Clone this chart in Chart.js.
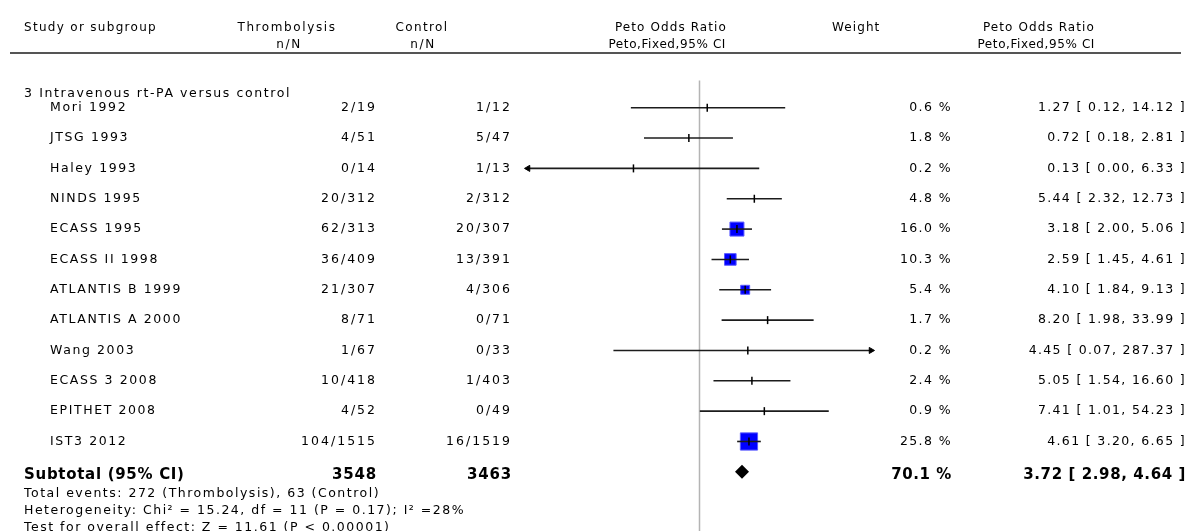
<!DOCTYPE html>
<html>
<head>
<meta charset="utf-8">
<script src="https://cdn.jsdelivr.net/npm/chart.js@4/dist/chart.umd.min.js"></script>
<style>
  html, body { margin: 0; padding: 0; background: #fff; }
  #wrap { position: relative; width: 1187px; height: 531px; }
</style>
</head>
<body>
<div id="wrap"><canvas id="forest"></canvas></div>
<script>
// Study data
const studies = ['Mori 1992', 'JTSG 1993', 'Haley 1993', 'NINDS 1995', 'ECASS 1995', 'ECASS II 1998',
  'ATLANTIS B 1999', 'ATLANTIS A 2000', 'Wang 2003', 'ECASS 3 2008', 'EPITHET 2008', 'IST3 2012'];
const trtEvents = [2, 4, 0, 20, 62, 36, 21, 8, 1, 10, 4, 104];
const trtTotal = [19, 51, 14, 312, 313, 409, 307, 71, 67, 418, 52, 1515];
const ctrlEvents = [1, 5, 1, 2, 20, 13, 4, 0, 0, 1, 0, 16];
const ctrlTotal = [12, 47, 13, 312, 307, 391, 306, 71, 33, 403, 49, 1519];
const weights = [0.6, 1.8, 0.2, 4.8, 16.0, 10.3, 5.4, 1.7, 0.2, 2.4, 0.9, 25.8];
const oddsRatio = [1.27, 0.72, 0.13, 5.44, 3.18, 2.59, 4.10, 8.20, 4.45, 5.05, 7.41, 4.61];
const ciLow = [0.12, 0.18, 0.00, 2.32, 2.00, 1.45, 1.84, 1.98, 0.07, 1.54, 1.01, 3.20];
const ciHigh = [14.12, 2.81, 6.33, 12.73, 5.06, 4.61, 9.13, 33.99, 287.37, 16.60, 54.23, 6.65];

// Subtotal
const subTotals = [3548, 3463];
const subWeight = 70.1;
const subOR = [3.72, 2.98, 4.64];

// axis range of the plot
const axisRange = [0.005, 200];

const FONT = '"DejaVu Sans", Verdana, sans-serif';
const xMin = axisRange[0], xMax = axisRange[1];
const subRow = studies.length;

const fmt = v => v.toFixed(2);

const datasets = [];

// confidence interval lines
studies.forEach((s, i) => {
  datasets.push({
    type: 'line',
    data: [{ x: Math.max(ciLow[i], xMin), y: i }, { x: Math.min(ciHigh[i], xMax), y: i }],
    borderColor: '#1c1c1c',
    borderWidth: 1.6,
    pointRadius: 0,
    clip: false,
    order: 2
  });
});

// weight squares
datasets.push({
  type: 'scatter',
  data: oddsRatio.map((v, i) => ({ x: v, y: i })),
  pointStyle: 'rect',
  pointRadius: ctx => {
    const w = weights[ctx.dataIndex];
    return w >= 5 ? (3 * Math.sqrt(w) + 2) / Math.SQRT2 : 0;
  },
  backgroundColor: '#0000ff',
  borderColor: '#5a5aff',
  borderWidth: 1,
  clip: false,
  order: 3
});

// point estimate ticks
datasets.push({
  type: 'scatter',
  data: oddsRatio.map((v, i) => ({ x: v, y: i })),
  pointStyle: 'line',
  rotation: 90,
  pointRadius: 4,
  borderColor: '#000',
  borderWidth: 1.5,
  clip: false,
  order: 1
});

// arrows where the interval runs off the axis
const arrows = [];
studies.forEach((s, i) => {
  if (ciLow[i] < xMin) arrows.push({ x: xMin, y: i, dir: -90 });
  if (ciHigh[i] > xMax) arrows.push({ x: xMax, y: i, dir: 90 });
});
datasets.push({
  type: 'scatter',
  data: arrows,
  pointStyle: 'triangle',
  rotation: ctx => arrows[ctx.dataIndex] ? arrows[ctx.dataIndex].dir : 0,
  pointRadius: 3.5,
  backgroundColor: '#000',
  borderColor: '#000',
  borderWidth: 1,
  clip: false,
  order: 1
});

// subtotal diamond
datasets.push({
  type: 'scatter',
  data: [{ x: subOR[0], y: subRow }],
  pointStyle: 'rectRot',
  pointRadius: 7,
  backgroundColor: '#000',
  borderColor: '#000',
  borderWidth: 0,
  clip: false,
  order: 1
});

// line of no effect
datasets.push({
  type: 'line',
  data: [{ x: 1, y: -0.9 }, { x: 1, y: 14 }],
  borderColor: '#b4b4b4',
  borderWidth: 1.5,
  pointRadius: 0,
  clip: false,
  order: 5
});

const textPlugin = {
  id: 'forestText',
  afterDraw(chart) {
    const ctx = chart.ctx;
    const y = chart.scales.y;
    ctx.save();
    ctx.fillStyle = '#000';
    ctx.textBaseline = 'middle';

    const put = (txt, x, py, align, font, spacing) => {
      ctx.font = font || ('12.5px ' + FONT);
      ctx.letterSpacing = (spacing === undefined ? 1.35 : spacing) + 'px';
      ctx.textAlign = align;
      ctx.fillText(txt, x, py);
    };
    const hdr = '12px ' + FONT;

    // header
    put('Study or subgroup', 24, 27.5, 'left', hdr, 1.3);
    put('Thrombolysis', 287, 27.5, 'center', hdr, 1.6);
    put('n/N', 289, 44.5, 'center', hdr, 1.6);
    put('Control', 422, 27.5, 'center', hdr, 1.4);
    put('n/N', 423, 44.5, 'center', hdr, 1.6);
    put('Peto Odds Ratio', 727, 27.5, 'right', hdr, 1.1);
    put('Peto,Fixed,95% CI', 726, 44.5, 'right', hdr, 0.6);
    put('Weight', 832, 27.5, 'left', hdr, 1.1);
    put('Peto Odds Ratio', 1095, 27.5, 'right', hdr, 1.1);
    put('Peto,Fixed,95% CI', 1095, 44.5, 'right', hdr, 0.6);

    ctx.strokeStyle = '#555';
    ctx.lineWidth = 2;
    ctx.beginPath();
    ctx.moveTo(10, 53);
    ctx.lineTo(1181, 53);
    ctx.stroke();

    put('3 Intravenous rt-PA versus control', 24, 93.5, 'left', null, 1.6);

    studies.forEach((s, i) => {
      const py = y.getPixelForValue(i);
      put(s, 50, py, 'left', null, 1.6);
      put(trtEvents[i] + '/' + trtTotal[i], 377, py, 'right', null, 2);
      put(ctrlEvents[i] + '/' + ctrlTotal[i], 512, py, 'right', null, 2);
      put(weights[i].toFixed(1) + ' %', 952, py, 'right', null, 1.4);
      put(fmt(oddsRatio[i]) + ' [ ' + fmt(ciLow[i]) + ', ' + fmt(ciHigh[i]) + ' ]', 1186, py, 'right', null, 1.35);
    });

    const sy = y.getPixelForValue(subRow) + 3;
    const bold = 'bold 15px ' + FONT;
    put('Subtotal (95% CI)', 24, sy, 'left', bold, 0.7);
    put(String(subTotals[0]), 377, sy, 'right', bold, 0.8);
    put(String(subTotals[1]), 512, sy, 'right', bold, 0.8);
    put(subWeight.toFixed(1) + ' %', 952, sy, 'right', bold, 0.6);
    put(fmt(subOR[0]) + ' [ ' + fmt(subOR[1]) + ', ' + fmt(subOR[2]) + ' ]', 1186, sy, 'right', bold, 0.6);

    put('Total events: 272 (Thrombolysis), 63 (Control)', 24, 494, 'left', null, 1.5);
    put('Heterogeneity: Chi\u00b2 = 15.24, df = 11 (P = 0.17); I\u00b2 =28%', 24, 511, 'left', null, 1.5);
    put('Test for overall effect: Z = 11.61 (P < 0.00001)', 24, 527.5, 'left', null, 1.5);
    ctx.restore();
  }
};

new Chart(document.getElementById('forest').getContext('2d'), {
  type: 'scatter',
  data: { datasets: datasets },
  options: {
    responsive: true,
    maintainAspectRatio: false,
    animation: false,
    layout: { autoPadding: false, padding: { left: 528, right: 316, top: 0, bottom: 0 } },
    plugins: { legend: { display: false }, tooltip: { enabled: false } },
    scales: {
      x: { type: 'logarithmic', min: xMin, max: xMax, display: false },
      y: { type: 'linear', min: -3.55, max: 13.95, reverse: true, display: false }
    }
  },
  plugins: [textPlugin]
});
</script>
</body>
</html>
